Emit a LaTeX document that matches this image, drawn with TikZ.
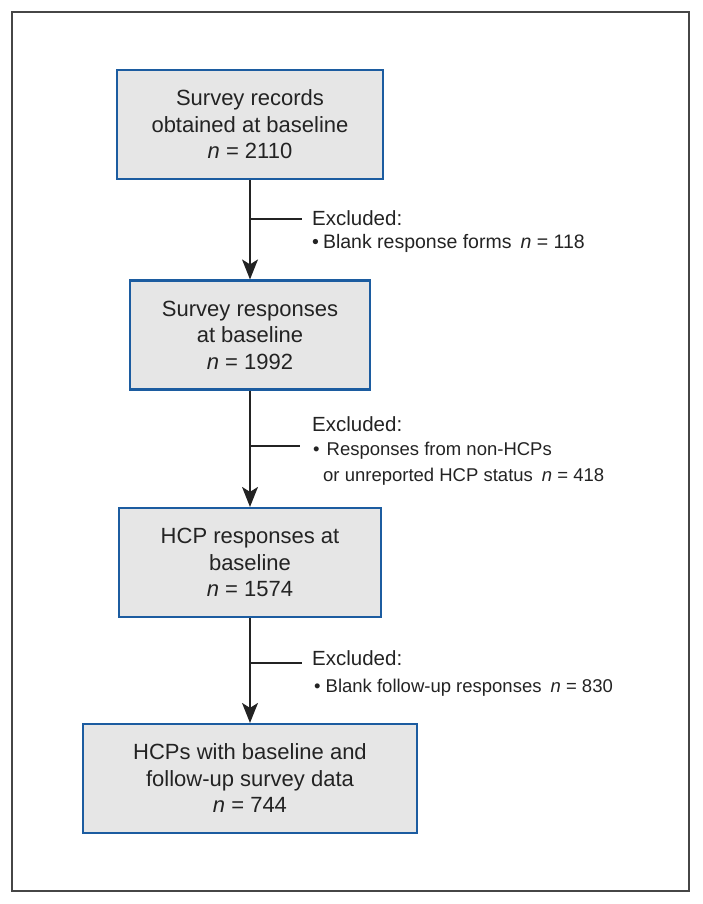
\documentclass[tikz,border=0pt]{standalone}
\usepackage{fontspec}
\setmainfont{Liberation Sans}
\usetikzlibrary{arrows.meta,positioning}

\definecolor{boxblue}{RGB}{28,92,160}
\definecolor{boxgray}{RGB}{230,230,230}
\definecolor{inkgray}{RGB}{35,35,35}
\definecolor{framegray}{RGB}{70,70,70}

\begin{document}
\begin{tikzpicture}[
  x=1pt, y=-1pt, >=Stealth,
  stage/.style={rectangle, draw=boxblue, fill=boxgray, line width=2.2pt, text=inkgray, align=center, font=\fontsize{22}{26.5}\selectfont, inner sep=0pt, minimum height=109pt},
  exhead/.style={anchor=base west, text=inkgray, font=\fontsize{20.5}{24}\selectfont, inner sep=0pt},
  exitem/.style={anchor=base west, text=inkgray, font=\fontsize{18.5}{24}\selectfont, inner sep=0pt},
  line/.style={draw=inkgray, line width=1.4pt},
  flow/.style={line, -{Stealth[length=20pt, width=16pt, inset=5pt]}}
]
  \useasboundingbox (0,0) rectangle (702,904);

  % Outer frame
  \draw[framegray, line width=2pt] (12,12) rectangle (689,891);

  % Stages
  \node[stage, minimum width=266pt] (records) at (250,124.5) {Survey records\\obtained at baseline\\\textit{n} = 2110};
  \node[stage, minimum width=240pt] (responses) at (250,335) {Survey responses\\at baseline\\\textit{n} = 1992};
  \node[stage, minimum width=262pt] (hcp) at (250,562.5) {HCP responses at\\baseline\\\textit{n} = 1574};
  \node[stage, minimum width=334pt] (final) at (250,778.5) {HCPs with baseline and\\follow-up survey data\\\textit{n} = 744};

  % Main flow
  \draw[flow] (records) -- (responses);
  \draw[flow] (responses) -- (hcp);
  \draw[flow] (hcp) -- (final);

  % Exclusion 1
  \coordinate (split1) at (250,219);
  \coordinate (tip1) at (302,219);
  \draw[line] (split1) -- (tip1);
  \node[exhead] (excl1) at (312,225) {Excluded:};
  \node[exitem, font=\fontsize{19.5}{24}\selectfont] (blank1) at (312,248.5) {\textbullet\hspace{4pt}Blank response forms\hspace{9pt}\textit{n} = 118};

  % Exclusion 2
  \coordinate (split2) at (250,446);
  \coordinate (tip2) at (300,446);
  \draw[line] (split2) -- (tip2);
  \node[exhead] (excl2) at (312,431.5) {Excluded:};
  \node[exitem] (nonhcp2) at (313,455.5) {\textbullet\hspace{7pt}Responses from non-HCPs};
  \node[exitem] (unrep2) at (323,481.5) {or unreported HCP status\hspace{9pt}\textit{n} = 418};

  % Exclusion 3
  \coordinate (split3) at (250,663);
  \coordinate (tip3) at (302,663);
  \draw[line] (split3) -- (tip3);
  \node[exhead] (excl3) at (312,665) {Excluded:};
  \node[exitem] (blank3) at (314,692) {\textbullet\hspace{5pt}Blank follow-up responses\hspace{9pt}\textit{n} = 830};

\end{tikzpicture}
\end{document}
